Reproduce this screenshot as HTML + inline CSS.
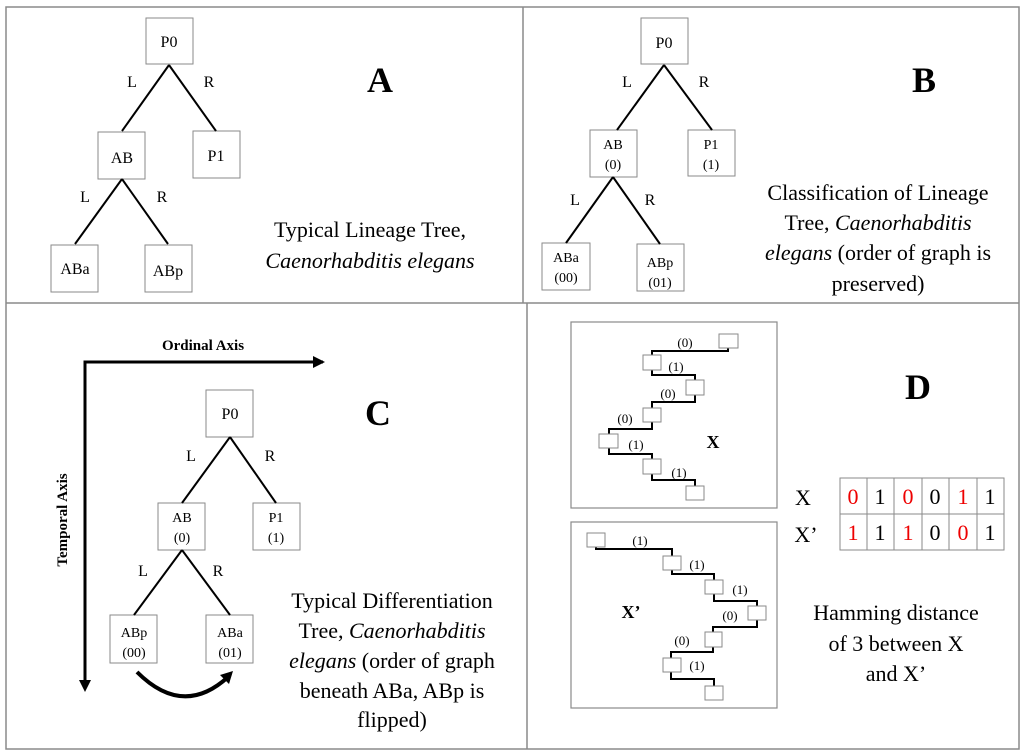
<!DOCTYPE html>
<html><head><meta charset="utf-8"><style>
html,body{margin:0;padding:0;background:#fff;}
svg{display:block;font-family:"Liberation Serif",serif;}
</style></head><body>
<svg width="1024" height="756" viewBox="0 0 1024 756" xmlns="http://www.w3.org/2000/svg">
<g fill="none" stroke="#8a8a8a" stroke-width="1.5">
<rect x="6" y="7" width="1013" height="742"/>
<line x1="523" y1="7" x2="523" y2="303"/>
<line x1="527" y1="303" x2="527" y2="749"/>
<line x1="6" y1="303" x2="1019" y2="303"/>
</g>
<!-- Panel A -->
<g fill="#fff" stroke="#8a8a8a" stroke-width="1">
<rect x="146" y="18" width="47" height="46"/>
<rect x="98" y="132" width="47" height="47"/>
<rect x="193" y="131" width="47" height="47"/>
<rect x="51" y="245" width="47" height="47"/>
<rect x="145" y="245" width="47" height="47"/>
</g>
<g stroke="#000" stroke-width="2">
<line x1="169" y1="65" x2="122" y2="131"/><line x1="169" y1="65" x2="216" y2="131"/>
<line x1="122" y1="179" x2="75" y2="244"/><line x1="122" y1="179" x2="168" y2="244"/>
</g>
<g font-size="16" text-anchor="middle" fill="#000">
<text x="169" y="47">P0</text><text x="122" y="163">AB</text><text x="216" y="161">P1</text>
<text x="75" y="274">ABa</text><text x="168" y="276">ABp</text>
<text x="132" y="87">L</text><text x="209" y="87">R</text><text x="85" y="202">L</text><text x="162" y="202">R</text>
</g>
<text x="380" y="92" font-size="36" font-weight="bold" text-anchor="middle">A</text>
<g font-size="22" text-anchor="middle"><text x="370" y="237">Typical Lineage Tree,</text><text x="370" y="268" font-style="italic">Caenorhabditis elegans</text></g>
<!-- Panel B -->
<g fill="#fff" stroke="#8a8a8a" stroke-width="1">
<rect x="641" y="18" width="47" height="46"/>
<rect x="590" y="130" width="47" height="47"/>
<rect x="688" y="130" width="47" height="46"/>
<rect x="542" y="243" width="48" height="47"/>
<rect x="637" y="244" width="47" height="47"/>
</g>
<g stroke="#000" stroke-width="2">
<line x1="664" y1="65" x2="617" y2="130"/><line x1="664" y1="65" x2="712" y2="130"/>
<line x1="613" y1="177" x2="566" y2="243"/><line x1="613" y1="177" x2="660" y2="244"/>
</g>
<g font-size="16" text-anchor="middle"><text x="664" y="48">P0</text><text x="627" y="87">L</text><text x="704" y="87">R</text><text x="575" y="205">L</text><text x="650" y="205">R</text></g>
<g font-size="14" text-anchor="middle">
<text x="613" y="149">AB</text><text x="613" y="169">(0)</text>
<text x="711" y="149">P1</text><text x="711" y="169">(1)</text>
<text x="566" y="262">ABa</text><text x="566" y="282">(00)</text>
<text x="660" y="267">ABp</text><text x="660" y="287">(01)</text>
</g>
<text x="924" y="92" font-size="36" font-weight="bold" text-anchor="middle">B</text>
<g font-size="22" text-anchor="middle">
<text x="878" y="200">Classification of Lineage</text>
<text x="878" y="230">Tree, <tspan font-style="italic">Caenorhabditis</tspan></text>
<text x="878" y="260"><tspan font-style="italic">elegans</tspan> (order of graph is</text>
<text x="878" y="291">preserved)</text>
</g>
<!-- Panel C -->
<text x="203" y="350" font-size="15" font-weight="bold" text-anchor="middle">Ordinal Axis</text>
<text transform="translate(67,520) rotate(-90)" font-size="15" font-weight="bold" text-anchor="middle">Temporal Axis</text>
<g stroke="#000" stroke-width="3" fill="none"><polyline points="323,362 85,362 85,682"/></g>
<polygon points="325,362 313,356 313,368" fill="#000"/>
<polygon points="85,692 79,680 91,680" fill="#000"/>
<g fill="#fff" stroke="#8a8a8a" stroke-width="1">
<rect x="206" y="390" width="47" height="47"/>
<rect x="158" y="503" width="47" height="47"/>
<rect x="253" y="503" width="47" height="47"/>
<rect x="110" y="615" width="47" height="48"/>
<rect x="206" y="615" width="47" height="48"/>
</g>
<g stroke="#000" stroke-width="2">
<line x1="230" y1="437" x2="182" y2="503"/><line x1="230" y1="437" x2="276" y2="503"/>
<line x1="182" y1="550" x2="134" y2="615"/><line x1="182" y1="550" x2="230" y2="615"/>
</g>
<g font-size="16" text-anchor="middle"><text x="230" y="419">P0</text><text x="191" y="461">L</text><text x="270" y="461">R</text><text x="143" y="576">L</text><text x="218" y="576">R</text></g>
<g font-size="14" text-anchor="middle">
<text x="182" y="522">AB</text><text x="182" y="542">(0)</text>
<text x="276" y="522">P1</text><text x="276" y="542">(1)</text>
<text x="134" y="637">ABp</text><text x="134" y="657">(00)</text>
<text x="230" y="637">ABa</text><text x="230" y="657">(01)</text>
</g>
<path d="M137,672 Q183,718 228,677" stroke="#000" stroke-width="4" fill="none"/>
<polygon points="233,671 220,675 229,684" fill="#000"/>
<text x="378" y="425" font-size="36" font-weight="bold" text-anchor="middle">C</text>
<g font-size="22" text-anchor="middle">
<text x="392" y="608">Typical Differentiation</text>
<text x="392" y="638">Tree, <tspan font-style="italic">Caenorhabditis</tspan></text>
<text x="392" y="668"><tspan font-style="italic">elegans</tspan> (order of graph</text>
<text x="392" y="698">beneath ABa, ABp is</text>
<text x="392" y="727">flipped)</text>
</g>
<!-- Panel D -->
<g fill="none" stroke="#8a8a8a" stroke-width="1.2">
<rect x="571" y="322" width="206" height="186"/>
<rect x="571" y="522" width="206" height="186"/>
</g>
<g stroke="#000" stroke-width="2" fill="none">
<polyline points="728,348 728,351 652,351 652,355"/>
<polyline points="652,370 652,375 695,375 695,380"/>
<polyline points="695,395 695,402 652,402 652,408"/>
<polyline points="652,422 652,429 609,429 609,434"/>
<polyline points="609,448 609,454 652,454 652,459"/>
<polyline points="652,474 652,480 695,480 695,486"/>
<polyline points="596,547 596,549 672,549 672,556"/>
<polyline points="672,570 672,574 714,574 714,580"/>
<polyline points="714,594 714,601 757,601 757,606"/>
<polyline points="757,620 757,627 713,627 713,632"/>
<polyline points="713,647 713,652 671,652 671,658"/>
<polyline points="671,672 671,679 714,679 714,686"/>
</g>
<g fill="#fff" stroke="#8a8a8a" stroke-width="1">
<rect x="719" y="334" width="19" height="14"/>
<rect x="643" y="355" width="18" height="15"/>
<rect x="686" y="380" width="18" height="15"/>
<rect x="643" y="408" width="18" height="14"/>
<rect x="599" y="434" width="19" height="14"/>
<rect x="643" y="459" width="18" height="15"/>
<rect x="686" y="486" width="18" height="14"/>
<rect x="587" y="533" width="18" height="14"/>
<rect x="663" y="556" width="18" height="14"/>
<rect x="705" y="580" width="18" height="14"/>
<rect x="748" y="606" width="18" height="14"/>
<rect x="705" y="632" width="17" height="15"/>
<rect x="663" y="658" width="18" height="14"/>
<rect x="705" y="686" width="18" height="14"/>
</g>
<g font-size="13" text-anchor="middle">
<text x="685" y="347">(0)</text><text x="676" y="371">(1)</text><text x="668" y="398">(0)</text>
<text x="625" y="423">(0)</text><text x="636" y="449">(1)</text><text x="679" y="477">(1)</text>
<text x="640" y="545">(1)</text><text x="697" y="569">(1)</text><text x="740" y="594">(1)</text>
<text x="730" y="620">(0)</text><text x="682" y="645">(0)</text><text x="697" y="670">(1)</text>
</g>
<text x="713" y="448" font-size="18" font-weight="bold" text-anchor="middle">X</text>
<text x="631" y="618" font-size="18" font-weight="bold" text-anchor="middle">X’</text>
<text x="918" y="399" font-size="36" font-weight="bold" text-anchor="middle">D</text>
<g stroke="#8a8a8a" stroke-width="1" fill="none">
<rect x="840" y="478" width="164" height="72"/>
<line x1="840" y1="514" x2="1004" y2="514"/>
<line x1="867" y1="478" x2="867" y2="550"/><line x1="894" y1="478" x2="894" y2="550"/>
<line x1="922" y1="478" x2="922" y2="550"/><line x1="949" y1="478" x2="949" y2="550"/>
<line x1="977" y1="478" x2="977" y2="550"/>
</g>
<g font-size="22" text-anchor="middle">
<text x="803" y="505">X</text><text x="806" y="542">X’</text>
<text x="853" y="504" fill="#e00">0</text><text x="880" y="504">1</text><text x="908" y="504" fill="#e00">0</text><text x="935" y="504">0</text><text x="963" y="504" fill="#e00">1</text><text x="990" y="504">1</text>
<text x="853" y="540" fill="#e00">1</text><text x="880" y="540">1</text><text x="908" y="540" fill="#e00">1</text><text x="935" y="540">0</text><text x="963" y="540" fill="#e00">0</text><text x="990" y="540">1</text>
</g>
<g font-size="22" text-anchor="middle">
<text x="896" y="620">Hamming distance</text>
<text x="896" y="651">of 3 between X</text>
<text x="896" y="681">and X’</text>
</g>
</svg>
</body></html>
